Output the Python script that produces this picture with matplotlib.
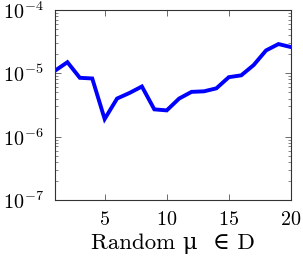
import matplotlib
matplotlib.use("Agg")
import matplotlib.pyplot as plt
from matplotlib.ticker import LogLocator

plt.rcParams['mathtext.fontset'] = 'cm'
plt.rcParams['font.family'] = ['cmr10', 'DejaVu Serif']
plt.rcParams['axes.formatter.use_mathtext'] = True

x = list(range(1, 21))
err = [1.1e-5, 1.5e-5, 8.5e-6, 8.3e-6, 1.9e-6, 4.0e-6, 4.9e-6, 6.2e-6, 2.7e-6, 2.6e-6,
       4.0e-6, 5.1e-6, 5.2e-6, 5.8e-6, 8.7e-6, 9.3e-6, 1.35e-5, 2.3e-5, 2.9e-5, 2.6e-5]
xticks = [5, 10, 15, 20]
xlabel = 'Random μ  ∈ D'

fig = plt.figure(figsize=(3.03, 2.62), dpi=100)
ax = fig.add_axes([0.1815, 0.2366, 0.7785, 0.7252])
ax.plot(x, err, color='#0000ff', linewidth=2.8, solid_joinstyle='miter')
ax.set_yscale('log')
ax.set_xlim(1, 20)
ax.set_ylim(1e-7, 1e-4)
ax.set_xticks(xticks)
ax.yaxis.set_major_locator(LogLocator(base=10, numticks=10))
ax.yaxis.set_minor_locator(LogLocator(base=10, subs=range(2, 10), numticks=10))
ax.tick_params(which='both', direction='in', top=True, right=True, colors='#555555',
               labelcolor='black', labelsize=14.5)
ax.tick_params(which='major', length=4, width=0.6)
ax.tick_params(which='minor', length=2.2, width=0.5)
ax.tick_params(axis='x', which='minor', bottom=False, top=False)
ax.tick_params(axis='x', which='major', pad=8)
ax.tick_params(axis='y', which='major', pad=8)
for s in ax.spines.values():
    s.set_linewidth(0.8)
    s.set_color('#333333')
ax.set_xlabel(xlabel, fontsize=16.5, labelpad=3, family=['cmr10', 'DejaVu Serif'])
fig.savefig('out.png', dpi=100)
